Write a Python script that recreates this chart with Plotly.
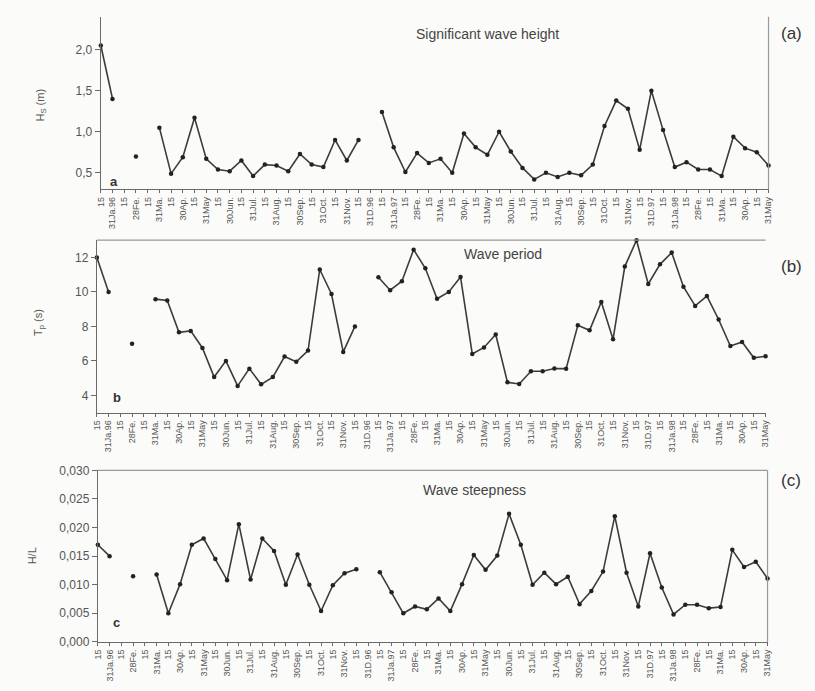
import plotly.graph_objects as go

# Tick labels (58 half-month ticks, Jan 1996 - May 1998)
tick_labels = [
    "15", "31Ja.96", "15", "28Fe.", "15", "31Ma.", "15", "30Ap.", "15", "31May",
    "15", "30Jun.", "15", "31Jul.", "15", "31Aug.", "15", "30Sep.", "15", "31Oct.",
    "15", "31Nov.", "15", "31D.96",
    "15", "31Ja.97", "15", "28Fe.", "15", "31Ma.", "15", "30Ap.", "15", "31May",
    "15", "30Jun.", "15", "31Jul.", "15", "31Aug.", "15", "30Sep.", "15", "31Oct.",
    "15", "31Nov.", "15", "31D.97",
    "15", "31Ja.98", "15", "28Fe.", "15", "31Ma.", "15", "30Ap.", "15", "31May",
]
tick_index = list(range(len(tick_labels)))

# Significant wave height Hs (m); None = no data
hs = [2.05, 1.40, None, 0.70, None, 1.05, 0.49, 0.69, 1.17, 0.67,
      0.54, 0.52, 0.65, 0.46, 0.60, 0.59, 0.52, 0.73, 0.60, 0.57,
      0.90, 0.65, 0.90, None, 1.24, 0.81, 0.51, 0.74, 0.62, 0.67,
      0.50, 0.98, 0.81, 0.72, 1.00, 0.76, 0.56, 0.42, 0.50, 0.45,
      0.50, 0.47, 0.60, 1.07, 1.38, 1.28, 0.78, 1.50, 1.02, 0.57,
      0.63, 0.54, 0.54, 0.46, 0.94, 0.80, 0.75, 0.59]

# Peak wave period Tp (s)
tp = [12.0, 10.0, None, 7.0, None, 9.58, 9.50, 7.66, 7.74, 6.75,
      5.06, 6.0, 4.55, 5.55, 4.64, 5.06, 6.25, 5.95, 6.60, 11.3,
      9.88, 6.52, 8.0, None, 10.85, 10.1, 10.62, 12.45, 11.37, 9.60,
      10.0, 10.86, 6.40, 6.78, 7.53, 4.76, 4.66, 5.40, 5.40, 5.56,
      5.55, 8.06, 7.77, 9.42, 7.25, 11.47, 13.0, 10.46, 11.60, 12.28,
      10.30, 9.19, 9.76, 8.40, 6.86, 7.10, 6.18, 6.27]

# Wave steepness H/L
hl = [0.0170, 0.0150, None, 0.0115, None, 0.0118, 0.0050, 0.0101, 0.0170, 0.0181,
      0.0145, 0.0108, 0.0206, 0.0109, 0.0181, 0.0159, 0.0100, 0.0153, 0.0100, 0.0054,
      0.0099, 0.0120, 0.0127, None, 0.0122, 0.0087, 0.0050, 0.0062, 0.0057, 0.0076,
      0.0054, 0.0101, 0.0152, 0.0126, 0.0151, 0.0224, 0.0170, 0.0100, 0.0121, 0.0101,
      0.0114, 0.0066, 0.0089, 0.0123, 0.0220, 0.0121, 0.0062, 0.0155, 0.0095, 0.0048,
      0.0065, 0.0065, 0.0059, 0.0061, 0.0161, 0.0131, 0.0140, 0.0111]

W, H = 815, 691
FONT = "Liberation Sans, Arial, sans-serif"
LINE = "#3c3c3c"
AXC = "#6a6a6a"
TXT = "#555555"

def fx(px):
    return px / W

def fy(py):
    return 1 - py / H

fig = go.Figure()

panels = [
    # data, xaxis id, yaxis id, x px (left,right), y px (top,bottom), y range
    (hs, "x", "y", (97, 773), (10, 186), [0.3, 2.4]),
    (tp, "x2", "y2", (93, 770), (238, 414), [3, 13]),
    (hl, "x3", "y3", (94, 772), (473, 648), [0.0, 0.030]),
]

for data, xa, ya, _, _, _ in panels:
    fig.add_trace(go.Scatter(
        x=tick_index, y=data, xaxis=xa, yaxis=ya,
        mode="lines+markers", connectgaps=False, cliponaxis=False,
        line=dict(color=LINE, width=1.6),
        marker=dict(color="#222222", size=4.5),
        showlegend=False, hoverinfo="skip",
    ))

yticks = [
    dict(tickvals=[0.5, 1.0, 1.5, 2.0], tickformat=".1f"),
    dict(tickvals=[4, 6, 8, 10, 12], tickformat="d"),
    dict(tickvals=[0.0, 0.005, 0.010, 0.015, 0.020, 0.025, 0.030], tickformat=".3f"),
]

layout = {}
for i, (data, xa, ya, xp, yp, yr) in enumerate(panels):
    xkey = "xaxis" if i == 0 else f"xaxis{i+1}"
    ykey = "yaxis" if i == 0 else f"yaxis{i+1}"
    layout[xkey] = dict(
        domain=[fx(xp[0]), fx(xp[1])], anchor=ya, range=[0, 57],
        tickvals=tick_index, ticktext=tick_labels, tickangle=-90,
        ticks="outside", ticklen=3, tickcolor=AXC, tickwidth=1,
        showline=True, linecolor=AXC, linewidth=1.2,
        showgrid=False, zeroline=False,
        tickfont=dict(family=FONT, size=9, color=TXT),
        fixedrange=True,
    )
    layout[ykey] = dict(
        domain=[fy(yp[1]), fy(yp[0])], anchor=xa, range=yr,
        ticks="outside", ticklen=5, tickcolor=AXC,
        showline=True, linecolor=AXC, linewidth=1.2,
        showgrid=False, zeroline=False,
        tickfont=dict(family=FONT, size=12, color=TXT),
        fixedrange=True, **yticks[i],
    )

fig.update_layout(
    width=W, height=H,
    margin=dict(l=0, r=0, t=0, b=0),
    paper_bgcolor="#fbfbf9", plot_bgcolor="#fbfbf9",
    separators=",.",
    **layout,
)

shapes = []
# Panel a: right border
shapes.append(dict(type="line", xref="paper", yref="paper",
                   x0=fx(773), x1=fx(773), y0=fy(186), y1=fy(10),
                   line=dict(color="#999999", width=1.2)))
# Panel b: top border
shapes.append(dict(type="line", xref="paper", yref="paper",
                   x0=fx(93), x1=fx(770), y0=fy(238), y1=fy(238),
                   line=dict(color="#999999", width=1.2)))
# Panel c: top and right border
shapes.append(dict(type="line", xref="paper", yref="paper",
                   x0=fx(94), x1=fx(772), y0=fy(473), y1=fy(473),
                   line=dict(color="#999999", width=1.2)))
shapes.append(dict(type="line", xref="paper", yref="paper",
                   x0=fx(772), x1=fx(772), y0=fy(648), y1=fy(473),
                   line=dict(color="#999999", width=1.2)))
fig.update_layout(shapes=shapes)

def ann(text, x, y, size, color=TXT, angle=0, xanchor="center", bold=False):
    fig.add_annotation(
        text=f"<b>{text}</b>" if bold else text,
        x=fx(x), y=fy(y), xref="paper", yref="paper",
        xanchor=xanchor, yanchor="middle", showarrow=False, textangle=angle,
        font=dict(family=FONT, size=size, color=color),
    )

# Panel titles
ann("Significant wave height", 488, 28, 14, color="#444444")
ann("Wave period", 504, 252, 14, color="#444444")
ann("Wave steepness", 475, 493, 14, color="#444444")

# Panel letters
ann("a", 110, 178, 13, color="#333333", bold=True)
ann("b", 113, 399, 13, color="#333333", bold=True)
ann("c", 113, 628, 13, color="#333333", bold=True)

# Side labels
ann("(a)", 796, 27, 17, color="#333333")
ann("(b)", 796, 265, 17, color="#333333")
ann("(c)", 796, 483, 17, color="#333333")

# Y axis titles
ann("H<sub>S</sub> (m)", 36, 100, 11, angle=-90)
ann("T<sub>p</sub> (s)", 35, 322, 11, angle=-90)
ann("H/L", 27, 560, 11, angle=-90)

fig.write_html(
    "out.html",
    config={"displayModeBar": False},
    post_script="document.body.style.margin='0px';document.body.style.overflow='hidden';",
)
